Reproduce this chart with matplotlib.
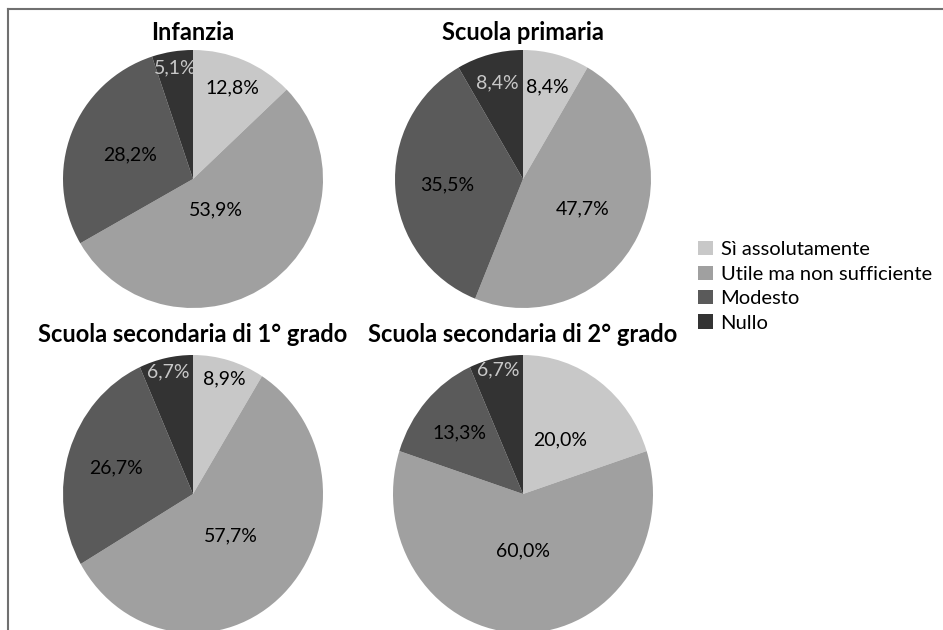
import numpy as np

import matplotlib
matplotlib.use('Agg')

import matplotlib.pyplot as plt
from matplotlib.patches import Patch
from matplotlib.lines import Line2D

plt.rcParams['font.family'] = ['Lato', 'DejaVu Sans']

# data
titles = ['Infanzia', 'Scuola primaria',
          'Scuola secondaria di 1° grado', 'Scuola secondaria di 2° grado']
categories = ['Sì assolutamente', 'Utile ma non sufficiente', 'Modesto', 'Nullo']
infanzia = [12.8, 53.9, 28.2, 5.1]
primaria = [8.4, 47.7, 35.5, 8.4]
secondaria_1 = [8.9, 57.7, 26.7, 6.7]
secondaria_2 = [20.0, 60.0, 13.3, 6.7]
series = [infanzia, primaria, secondaria_1, secondaria_2]

colors = ['#c8c8c8', '#a0a0a0', '#5a5a5a', '#333333']
text_colors = ['black', 'black', 'black', '#c8c8c8']

# label radius per slice (fraction of pie radius)
label_r = [[0.77, 0.30, 0.52, 0.87],
           [0.74, 0.52, 0.59, 0.77],
           [0.86, 0.42, 0.62, 0.90],
           [0.48, 0.41, 0.66, 0.91]]

W, H = 943, 630
# pie centers / radii in pixels (cx, cy, rx, ry)
geom = [(193, 179, 130, 129),
        (523, 179, 128, 129),
        (193, 494, 130, 139),
        (523, 494, 130, 139)]
title_y = [33, 33, 334, 334]


def main():
    fig = plt.figure(figsize=(W / 100, H / 100), dpi=100)

    for k in range(4):
        cx, cy, rx, ry = geom[k]
        ax = fig.add_axes([(cx - rx) / W, (H - cy - ry) / H, 2 * rx / W, 2 * ry / H])
        wedges, _ = ax.pie(series[k], colors=colors, startangle=90, counterclock=False,
                           radius=1.0, wedgeprops=dict(linewidth=0))
        ax.set_aspect('auto')
        ax.set_xlim(-1, 1)
        ax.set_ylim(-1, 1)
        ax.axis('off')
        for i, w in enumerate(wedges):
            ang = np.deg2rad((w.theta1 + w.theta2) / 2)
            r = label_r[k][i]
            lbl = f"{series[k][i]:.1f}".replace('.', ',') + '%'
            ax.text(r * np.cos(ang), r * np.sin(ang), lbl, ha='center', va='center',
                    fontsize=14, color=text_colors[i])
        fig.text(cx / W, (H - title_y[k]) / H, titles[k], ha='center', va='center',
                 fontsize=17, fontweight='bold')

    handles = [Patch(facecolor=c, edgecolor='none') for c in colors]
    fig.legend(handles, categories, loc='upper left',
               bbox_to_anchor=(688 / W, (H - 231) / H), frameon=False,
               fontsize=14.5, handlelength=0.72, handleheight=0.72,
               handletextpad=0.4, labelspacing=0.36, borderpad=0)

    # frame lines (top and left)
    fig.add_artist(Line2D([8 / W, 1], [1 - 9 / H, 1 - 9 / H], color='#707070', lw=1.5))
    fig.add_artist(Line2D([8 / W, 8 / W], [0, 1 - 9 / H], color='#707070', lw=1.5))

    plt.savefig('out.png', dpi=100)


if __name__ == '__main__':
    main()
